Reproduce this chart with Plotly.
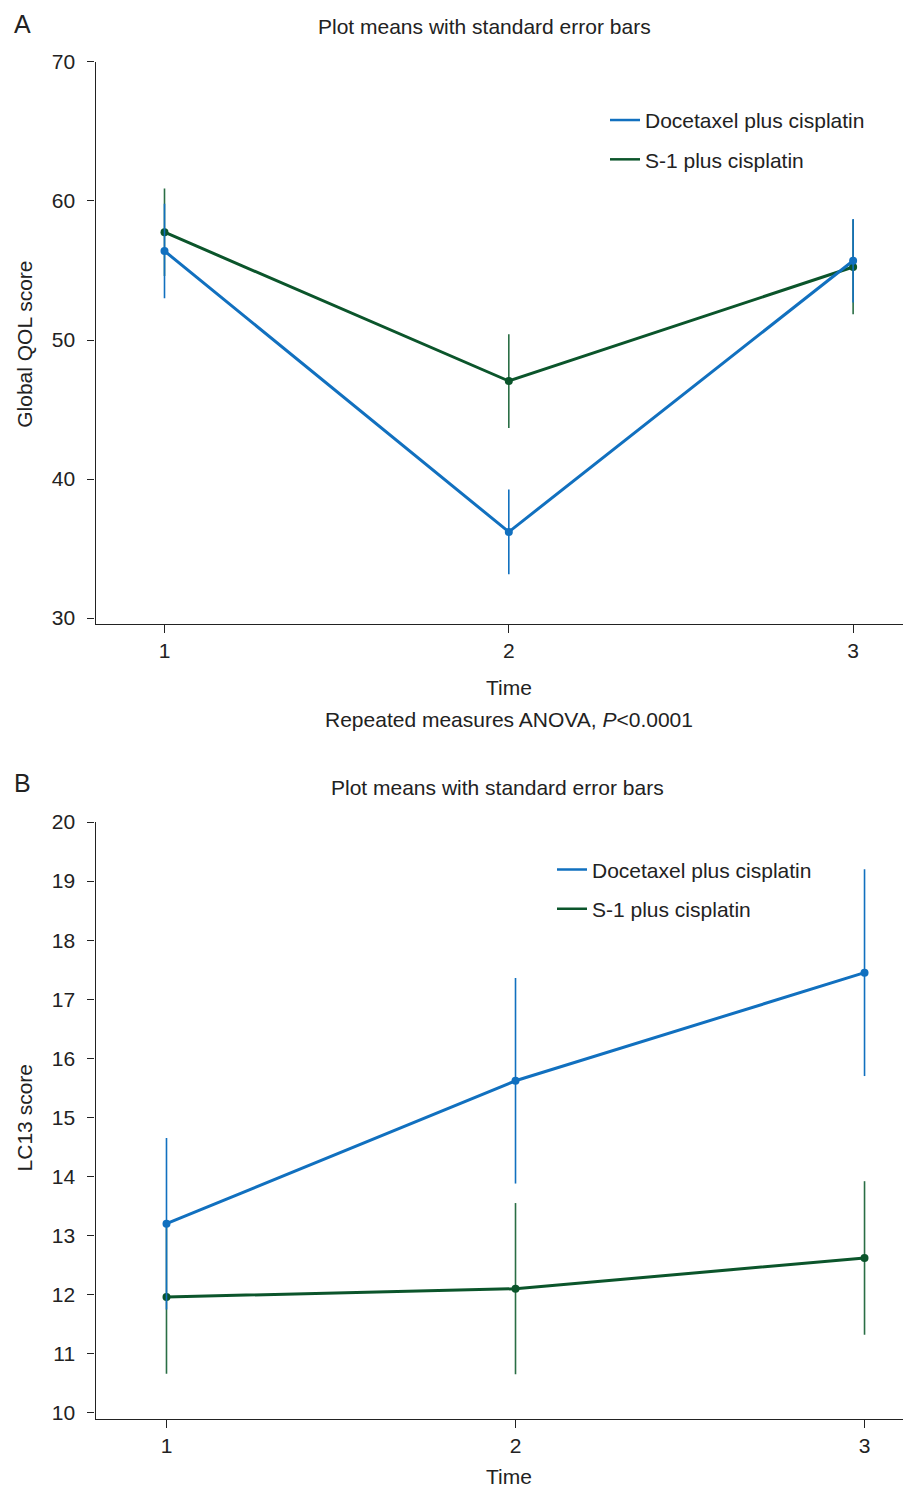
import plotly.graph_objects as go

W, H = 911, 1486

time_points = [1, 2, 3]
series_names = ["Docetaxel plus cisplatin", "S-1 plus cisplatin"]

# Panel A: Global QOL score
qol_docetaxel_mean = [56.4, 36.2, 55.7]
qol_docetaxel_se = [3.4, 3.05, 3.0]
qol_s1_mean = [57.75, 47.05, 55.25]
qol_s1_se = [3.15, 3.37, 3.4]

# Panel B: LC13 score
lc13_docetaxel_mean = [13.2, 15.62, 17.45]
lc13_docetaxel_se = [1.45, 1.74, 1.75]
lc13_s1_mean = [11.96, 12.1, 12.62]
lc13_s1_se = [1.3, 1.45, 1.3]

yticks_a = [30, 40, 50, 60, 70]
yticks_b = list(range(10, 21))

BLUE = "#1170BF"
GREEN = "#0B552B"
GREEN_BAR = "#2A6E45"
FONT = "Liberation Sans, Arial, sans-serif"
TXT = "#222222"
FS = 21


# page placement correction (observed offset of the rendered page)
def X(x):
    return x - 7.5


def Y(y):
    return (y - 18.6) / 0.989


def px(x):
    return X(x) / W


def py(y):
    return 1 - Y(y) / H


fig = go.Figure()


def add_series(means, se, color, barcolor, xa, ya):
    fig.add_trace(go.Scatter(
        x=time_points, y=means, mode="lines+markers",
        line=dict(color=color, width=3),
        marker=dict(color=color, size=8),
        error_y=dict(type="data", array=se, visible=True, width=0,
                     thickness=1.6, color=barcolor),
        showlegend=False, xaxis=xa, yaxis=ya, hoverinfo="skip"))


# Panel A (green first, blue on top)
add_series(qol_s1_mean, qol_s1_se, GREEN, GREEN_BAR, "x", "y")
add_series(qol_docetaxel_mean, qol_docetaxel_se, BLUE, BLUE, "x", "y")
# Panel B
add_series(lc13_s1_mean, lc13_s1_se, GREEN, GREEN_BAR, "x2", "y2")
add_series(lc13_docetaxel_mean, lc13_docetaxel_se, BLUE, BLUE, "x2", "y2")

# legend entries
for leg, xa, ya in [("legend", "x", "y"), ("legend2", "x2", "y2")]:
    for name, col in zip(series_names, [BLUE, GREEN]):
        fig.add_trace(go.Scatter(
            x=[None], y=[None], mode="lines", name=name,
            line=dict(color=col, width=2.5), legend=leg,
            legendgroup=leg + name, xaxis=xa, yaxis=ya))

axis_common = dict(
    showline=True, linecolor="#222222", linewidth=1.3,
    ticks="outside", tickcolor="#222222", tickwidth=1.2,
    showgrid=False, zeroline=False,
    tickfont=dict(family=FONT, size=FS, color=TXT),
)

fig.update_layout(
    width=W, height=H,
    margin=dict(l=0, r=0, t=0, b=0),
    plot_bgcolor="white", paper_bgcolor="white",
    font=dict(family=FONT, color=TXT),
    xaxis=dict(domain=[px(95), px(911.5)], range=[0.7996, 3.171],
               tickvals=time_points, ticklen=8, ticklabelstandoff=0,
               anchor="y", **axis_common),
    yaxis=dict(domain=[py(623), py(60.5)], range=[29.568, 70],
               tickvals=yticks_a, ticklen=7, ticklabelstandoff=8,
               anchor="x", **axis_common),
    xaxis2=dict(domain=[px(95), px(911.5)], range=[0.7966, 3.136],
                tickvals=time_points, ticklen=8, ticklabelstandoff=0,
                anchor="y2", **axis_common),
    yaxis2=dict(domain=[py(1418), py(821)], range=[9.898, 20],
                tickvals=yticks_b, ticklen=7, ticklabelstandoff=8,
                anchor="x2", **axis_common),
    legend=dict(x=597 / W, y=1 - 80.8 / H, xanchor="left", yanchor="top",
                font=dict(family=FONT, size=FS, color=TXT),
                bgcolor="rgba(0,0,0,0)", tracegroupgap=9,
                itemwidth=30),
    legend2=dict(x=544 / W, y=1 - 838.9 / H, xanchor="left", yanchor="top",
                 font=dict(family=FONT, size=FS, color=TXT),
                 bgcolor="rgba(0,0,0,0)", tracegroupgap=9,
                 itemwidth=30),
)

annotations = [
    dict(text="A", x=px(11), y=py(23), size=25, xanchor="left"),
    dict(text="B", x=px(11), y=py(782), size=25, xanchor="left"),
    dict(text="Plot means with standard error bars", x=px(484), y=py(25), size=FS),
    dict(text="Plot means with standard error bars", x=px(497), y=py(786), size=FS),
    dict(text="Time", x=px(509), y=py(686), size=FS),
    dict(text="Time", x=px(508), y=py(1476), size=FS),
    dict(text="Repeated measures ANOVA, <i>P</i><0.0001", x=px(508), y=py(718), size=FS),
]
for a in annotations:
    fig.add_annotation(text=a["text"], x=a["x"], y=a["y"], xref="paper", yref="paper",
                       showarrow=False, xanchor=a.get("xanchor", "center"), yanchor="middle",
                       font=dict(family=FONT, size=a["size"], color=TXT))

for text, yc in [("Global QOL score", 343), ("LC13 score", 1117)]:
    fig.add_annotation(text=text, x=px(24), y=py(yc), xref="paper", yref="paper",
                       showarrow=False, textangle=-90, xanchor="center", yanchor="middle",
                       font=dict(family=FONT, size=FS, color=TXT))

fig.write_html("out.html")
